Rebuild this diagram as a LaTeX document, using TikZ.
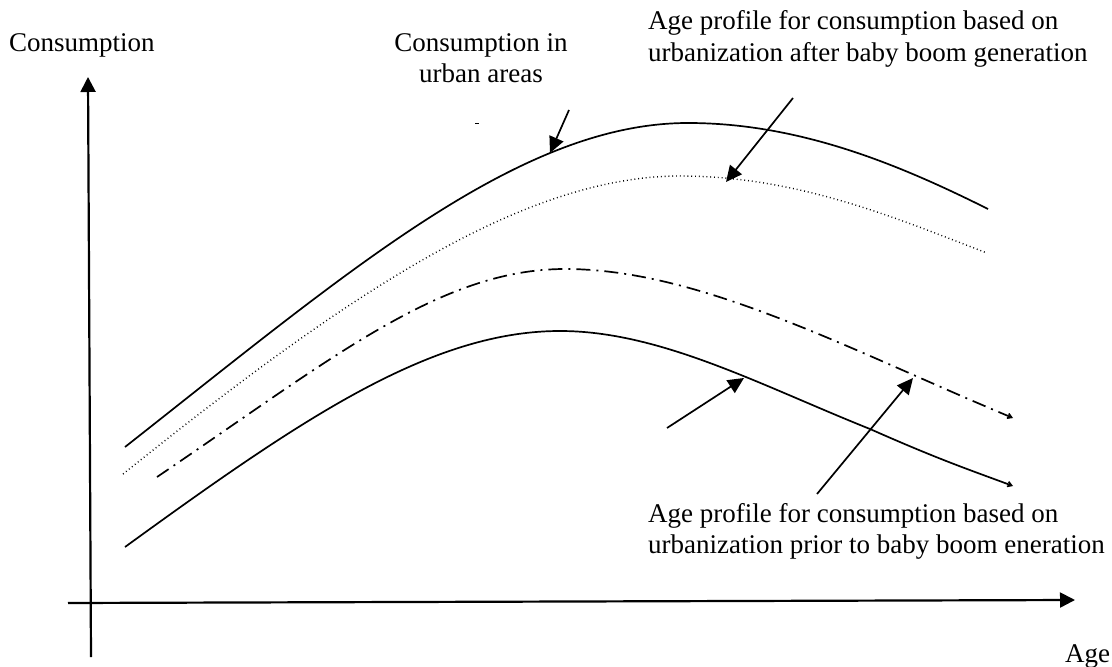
\documentclass[tikz,border=0pt]{standalone}
\usepackage{fontspec}
\setmainfont{Liberation Serif}
\usetikzlibrary{arrows.meta}
\begin{document}
\begin{tikzpicture}[x=1bp,y=-1bp,
  lbl/.style={inner sep=0pt,font=\fontsize{27bp}{31bp}\selectfont},
  axis/.style={line width=2.2bp,-{Triangle[length=15bp,width=15bp]}},
  curve/.style={line width=1.7bp,line join=round},
  dotcurve/.style={line width=1.4bp,dash pattern=on 0.9bp off 2.9bp},
  dashdot/.style={line width=1.7bp,dash pattern=on 14bp off 6bp on 2bp off 6bp},
  pointer/.style={line width=1.7bp,-{Triangle[length=16bp,width=15bp]}},
  endtip/.style={-{Straight Barb[length=4bp,width=5bp]}}
]
\useasboundingbox (0,0) rectangle (1112,667);
% axes
\coordinate (yb) at (91,657);
\coordinate (yt) at (88,77);
\coordinate (xl) at (68,603);
\coordinate (xr) at (1075,600);
\draw[axis] (yb) -- (yt);
\draw[axis] (xl) -- (xr);
% labels
\node[lbl,anchor=base west] (ylab) at (9,52) {Consumption};
\node[lbl,anchor=base] (urb1) at (481,52) {Consumption in};
\node[lbl,anchor=base] (urb2) at (481,83) {urban areas};
\node[lbl,anchor=base west] (aft1) at (648,30) {Age profile for consumption based on};
\node[lbl,anchor=base west] (aft2) at (648,62) {urbanization after baby boom generation};
\node[lbl,anchor=base west] (pri1) at (648,522) {Age profile for consumption based on};
\node[lbl,anchor=base west] (pri2) at (648,553) {urbanization prior to baby boom eneration};
\node[lbl,anchor=base west] (xlab) at (1065,662) {Age};
% curves
\draw[curve] (125,447) .. controls (350,270) and (520,123) .. (688,123)
  .. controls (800,123) and (900,165) .. (988,209);
\draw[dotcurve] (123,474) .. controls (340,300) and (520,176) .. (680,176)
  .. controls (800,176) and (900,220) .. (987,253);
\draw[dashdot,endtip] (157,477) .. controls (330,360) and (440,269) .. (565,269)
  .. controls (700,269) and (850,350) .. (1013,418);
\draw[curve,endtip] (125,547) .. controls (300,420) and (430,331) .. (560,331)
  .. controls (660,331) and (760,385) .. (870,429)
  .. controls (940,460) and (970,470) .. (1013,486);
% stray mark
\draw[line width=1bp] (475,124) -- (479,124);
% pointers
\coordinate (pu0) at (569,110);
\coordinate (pu1) at (550,153);
\coordinate (pa0) at (793,98);
\coordinate (pa1) at (726,182);
\coordinate (pl0) at (667,428);
\coordinate (pl1) at (744,378);
\coordinate (pd0) at (817,494);
\coordinate (pd1) at (913,378);
\draw[pointer] (pu0) -- (pu1);
\draw[pointer] (pa0) -- (pa1);
\draw[pointer] (pl0) -- (pl1);
\draw[pointer] (pd0) -- (pd1);
\end{tikzpicture}
\end{document}
